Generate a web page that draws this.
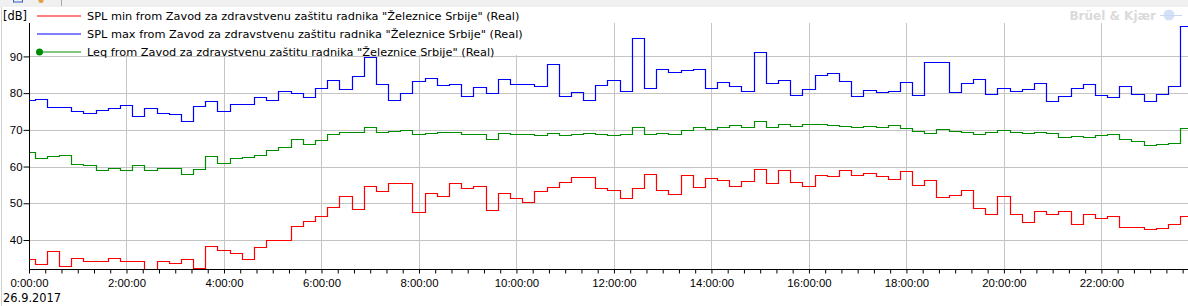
<!DOCTYPE html>
<html>
<head>
<meta charset="utf-8">
<script src="https://cdn.jsdelivr.net/npm/d3@7"></script>
<style>
  body { margin: 0; background: #fff; }
  svg { display: block; font-family: 'DejaVu Sans', Verdana, sans-serif; }
</style>
</head>
<body>
<div id="chart"></div>
<script>
// 15 minute intervals, first one starts 8 minutes before midnight
let startMinute = -8
let stepMinutes = 15

let splMin = [
  34.7, 33.4, 36.9, 33.0, 35.0, 34.2, 34.2, 35.0, 34.2, 34.2, 30.5, 34.2,
  33.8, 34.7, 32.3, 38.5, 37.2, 36.5, 34.7, 38.0, 39.9, 39.9, 43.7, 45.1,
  46.5, 48.9, 51.9, 48.4, 54.6, 53.3, 55.5, 55.5, 47.5, 52.7, 51.9, 55.5,
  54.1, 54.6, 48.1, 52.7, 51.4, 50.3, 53.3, 54.4, 55.7, 57.1, 57.1, 54.1,
  53.5, 51.4, 54.1, 57.9, 53.5, 52.5, 57.6, 54.4, 56.8, 56.3, 54.6, 56.0,
  59.3, 55.5, 59.0, 55.7, 54.6, 57.6, 57.4, 59.0, 57.6, 58.2, 57.4, 56.5,
  58.7, 54.9, 56.3, 51.6, 52.2, 53.5, 48.6, 47.0, 51.9, 47.0, 44.8, 47.8,
  47.0, 47.8, 44.3, 47.0, 45.9, 46.5, 43.5, 43.5, 42.9, 43.2, 44.3, 46.5
]

let splMax = [
  78.2, 78.4, 76.2, 76.2, 75.1, 74.7, 75.4, 75.9, 76.7, 73.7, 75.9, 74.5,
  74.3, 72.4, 76.5, 77.8, 75.1, 77.0, 77.0, 78.9, 78.1, 80.5, 80.0, 78.9,
  81.4, 83.5, 81.1, 84.6, 89.8, 82.5, 78.2, 80.0, 83.4, 84.1, 82.2, 82.5,
  79.2, 81.6, 80.0, 83.8, 82.5, 82.5, 81.9, 87.9, 79.2, 80.3, 78.2, 82.2,
  83.5, 80.5, 95.0, 81.4, 86.5, 85.8, 86.3, 86.5, 81.4, 83.1, 81.9, 80.5,
  91.2, 82.7, 83.5, 79.5, 81.1, 84.9, 85.5, 83.4, 79.2, 80.8, 80.3, 80.5,
  83.0, 79.5, 88.5, 88.5, 80.3, 82.7, 83.8, 79.7, 81.4, 80.5, 81.1, 82.7,
  77.9, 79.2, 81.4, 82.5, 79.5, 78.9, 81.9, 79.7, 77.9, 79.7, 81.9, 98.3
]

let leq = [
  63.9, 62.3, 62.8, 63.1, 60.6, 60.3, 59.0, 59.5, 59.0, 60.3, 59.0, 59.5,
  59.5, 57.9, 59.3, 62.8, 60.9, 62.3, 62.5, 63.2, 64.6, 65.3, 67.5, 66.1,
  67.2, 68.8, 69.3, 69.3, 70.9, 69.4, 69.6, 69.9, 68.8, 69.2, 69.4, 69.4,
  69.0, 69.0, 67.5, 69.1, 68.9, 68.9, 68.6, 69.1, 68.5, 68.8, 69.1, 68.8,
  68.5, 68.8, 70.9, 68.8, 69.1, 68.8, 69.9, 70.9, 70.2, 70.7, 71.3, 70.7,
  72.3, 70.7, 71.5, 71.0, 71.5, 71.5, 71.3, 71.0, 70.7, 71.0, 70.7, 71.3,
  70.5, 69.6, 69.1, 70.2, 69.6, 69.4, 68.8, 69.4, 69.9, 69.4, 69.1, 69.4,
  69.1, 68.0, 68.3, 68.0, 68.5, 68.8, 67.5, 66.9, 65.8, 66.1, 66.4, 70.5
]

let yTicks = [40, 50, 60, 70, 80, 90]
let xTickHours = [0, 2, 4, 6, 8, 10, 12, 14, 16, 18, 20, 22]
let dateLabel = '26.9.2017'
let unitLabel = '[dB]'
let sourceName = 'from Zavod za zdravstvenu zaštitu radnika "Železnice Srbije" (Real)'
let seriesNames = ['SPL min', 'SPL max', 'Leq']
let seriesColors = ['#ff0000', '#0000ff', '#008c00']

let width = 1188
let height = 306
let margin = { top: 23, left: 29, right: 0, bottom: 37 }

let svg = d3
  .select('#chart')
  .append('svg')
  .attr('width', width)
  .attr('height', height)

// pick font sizes so text widths match the original (legend row ~433px, "0:00:00" ~44px)
function fitSize(str, target) {
  let probe = svg.append('text').attr('font-size', 20).text(str)
  let w = probe.node().getComputedTextLength()
  probe.remove()
  return 20 * target / w
}
let legendSize = fitSize(seriesNames[0] + ' ' + sourceName, 433)
let axisSize = fitSize('0:00:00', 44)

let x = d3
  .scaleLinear()
  .domain([0, 1426.6])
  .range([margin.left, width - margin.right])

let y = d3
  .scaleLinear()
  .domain([32.1, 99.1])
  .range([height - margin.bottom, margin.top])

// top strip of the window
svg.append('rect').attr('x', 0).attr('y', 0).attr('width', width).attr('height', 7).attr('fill', '#f0f0f0')
svg.append('rect').attr('x', 13.5).attr('y', -3).attr('width', 9).attr('height', 5).attr('fill', 'none').attr('stroke', '#2f5fc8')
svg.append('circle').attr('cx', 41).attr('cy', 0.5).attr('r', 2.5).attr('fill', '#e0a040')
svg.append('line').attr('x1', 61.5).attr('x2', 61.5).attr('y1', 0).attr('y2', 6).attr('stroke', '#a8a8a8')
svg.append('line').attr('x1', 1.5).attr('x2', 1.5).attr('y1', 7).attr('y2', height).attr('stroke', '#d0d0d0')

// grid lines
svg
  .selectAll('.hgrid')
  .data(yTicks)
  .enter()
  .append('line')
  .attr('class', 'hgrid')
  .attr('x1', margin.left)
  .attr('x2', width)
  .attr('y1', d => Math.round(y(d)) + 0.5)
  .attr('y2', d => Math.round(y(d)) + 0.5)
  .attr('stroke', '#c4c4c4')

svg
  .selectAll('.vgrid')
  .data(xTickHours.slice(1))
  .enter()
  .append('line')
  .attr('class', 'vgrid')
  .attr('x1', d => Math.round(x(d * 60)) + 0.5)
  .attr('x2', d => Math.round(x(d * 60)) + 0.5)
  .attr('y1', margin.top)
  .attr('y2', height - margin.bottom)
  .attr('stroke', '#c4c4c4')

// legend sits on a white box over the top of the plot
svg
  .append('rect')
  .attr('x', margin.left + 1)
  .attr('y', 7)
  .attr('width', 500)
  .attr('height', 48)
  .attr('fill', '#fff')

// watermark
svg
  .append('text')
  .attr('x', 1156)
  .attr('y', 20)
  .attr('text-anchor', 'end')
  .attr('font-size', 12)
  .attr('font-weight', 'bold')
  .attr('fill', '#dadada')
  .text('Brüel & Kjær')
svg.append('circle').attr('cx', 1169).attr('cy', 15).attr('r', 5.5).attr('fill', '#d4e0f6')
svg.append('line').attr('x1', 1160).attr('x2', 1182).attr('y1', 15.5).attr('y2', 15.5).attr('stroke', '#c8d8f2')

// data
let defs = svg.append('defs')
defs
  .append('clipPath')
  .attr('id', 'plot-clip')
  .append('rect')
  .attr('x', margin.left)
  .attr('y', margin.top)
  .attr('width', width - margin.left)
  .attr('height', height - margin.bottom - margin.top)

let line = d3
  .line()
  .x(d => Math.round(x(d[0])) + 0.5)
  .y(d => Math.round(y(d[1])) + 0.5)
  .curve(d3.curveStepAfter)

function toPoints(values) {
  let pts = values.map((v, i) => [startMinute + i * stepMinutes, v])
  pts.push([startMinute + values.length * stepMinutes, values[values.length - 1]])
  return pts
}

let series = [splMin, splMax, leq]

svg
  .append('g')
  .attr('clip-path', 'url(#plot-clip)')
  .selectAll('path')
  .data(series)
  .enter()
  .append('path')
  .attr('d', d => line(toPoints(d)))
  .attr('fill', 'none')
  .attr('stroke', (d, i) => seriesColors[i])
  .attr('stroke-width', 1.2)

// axes
let yAxis = svg
  .append('g')
  .attr('transform', `translate(${margin.left + 0.5}, 0)`)
  .call(
    d3
      .axisLeft(y)
      .tickValues(yTicks)
      .tickSize(6)
      .tickPadding(1)
      .tickFormat(d3.format('d'))
  )
yAxis.select('.domain').attr('d', `M0,${margin.top}V${height - margin.bottom}`).attr('stroke', '#000')
yAxis.selectAll('.tick line').attr('stroke', '#000')
yAxis.selectAll('text').attr('font-size', axisSize).attr('font-family', null).attr('fill', '#000')

let minorTicks = d3.range(0, 1426, 20)

let xAxis = svg
  .append('g')
  .attr('transform', `translate(0, ${height - margin.bottom + 0.5})`)
  .call(
    d3
      .axisBottom(x)
      .tickValues(minorTicks)
      .tickSize(4)
      .tickPadding(5)
      .tickFormat(d => (d % 120 === 0 ? d / 60 + ':00:00' : ''))
  )
xAxis.select('.domain').attr('d', `M${margin.left},0H${width}`).attr('stroke', '#000')
xAxis.selectAll('.tick line').attr('stroke', '#000')
xAxis.selectAll('text').attr('font-size', axisSize).attr('font-family', null).attr('fill', '#000')

svg
  .append('text')
  .attr('x', 3)
  .attr('y', 302)
  .attr('font-size', axisSize)
  .text(dateLabel)

svg
  .append('text')
  .attr('x', 3)
  .attr('y', 20)
  .attr('font-size', axisSize)
  .text(unitLabel)

// legend
let legend = svg
  .selectAll('.legend')
  .data(seriesNames)
  .enter()
  .append('g')
  .attr('class', 'legend')
  .attr('transform', (d, i) => `translate(0, ${15.5 + i * 18})`)

legend
  .append('line')
  .attr('x1', 37)
  .attr('x2', 81)
  .attr('y1', 0.5)
  .attr('y2', 0.5)
  .attr('stroke', (d, i) => seriesColors[i])
  .attr('stroke-width', 1.2)

legend
  .filter((d, i) => i === 2)
  .append('circle')
  .attr('cx', 39.5)
  .attr('cy', 0.5)
  .attr('r', 3.5)
  .attr('fill', seriesColors[2])

legend
  .append('text')
  .attr('x', 87)
  .attr('y', 4.5)
  .attr('font-size', legendSize)
  .text(d => d + ' ' + sourceName)
</script>
</body>
</html>
